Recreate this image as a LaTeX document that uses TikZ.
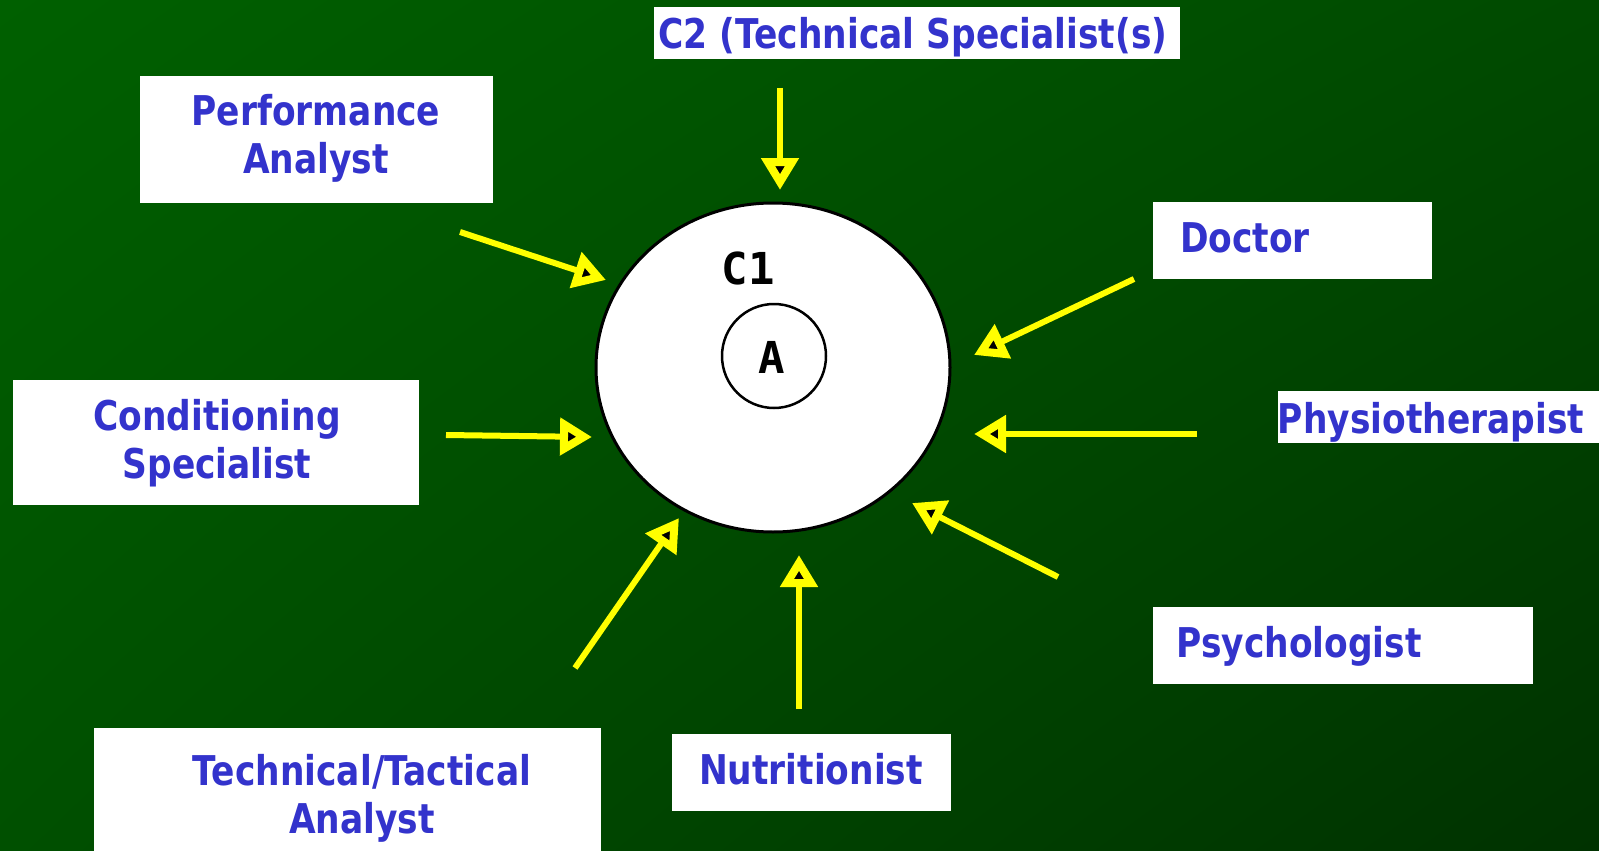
\documentclass[tikz,border=0pt]{standalone}
\usepackage{fontspec}
\setmainfont{DejaVu Sans}[FakeStretch=0.84]
\newfontfamily\monofam{DejaVu Sans Mono}
\usetikzlibrary{arrows.meta,shapes.geometric,shadings}
\definecolor{lbl}{RGB}{51,51,204}
\definecolor{bgUL}{RGB}{0,96,0}
\definecolor{bgUR}{RGB}{0,74,0}
\definecolor{bgLL}{RGB}{0,80,0}
\definecolor{bgLR}{RGB}{0,50,0}
\definecolor{feedyellow}{RGB}{255,255,0}
\begin{document}
\begin{tikzpicture}[x=1pt,y=-1pt,
  box/.style={fill=white, draw=none, inner sep=0pt, outer sep=0pt, anchor=north west},
  lab/.style={text=lbl, font=\bfseries\fontsize{41}{48}\selectfont, inner sep=0pt, anchor=base},
  mono/.style={text=black, font=\monofam\bfseries\fontsize{44}{50}\selectfont, inner sep=0pt, anchor=base},
  feed/.style={draw=feedyellow, line width=6pt, -{Triangle[length=32pt,width=36pt,line width=8pt,fill=black]}}]
% background
\shade[upper left=bgUL, upper right=bgUR, lower left=bgLL, lower right=bgLR] (0,0) rectangle (1599,851);
\useasboundingbox (0,0) rectangle (1599,851);

% boxes
\node[box, minimum width=526pt, minimum height=52pt] (c2box) at (654,7) {};
\node[box, minimum width=353pt, minimum height=127pt] (pabox) at (140,76) {};
\node[box, minimum width=279pt, minimum height=77pt] (docbox) at (1153,202) {};
\node[box, minimum width=321pt, minimum height=52pt] (phbox) at (1278,391) {};
\node[box, minimum width=380pt, minimum height=77pt] (psbox) at (1153,607) {};
\node[box, minimum width=279pt, minimum height=77pt] (nubox) at (672,734) {};
\node[box, minimum width=406pt, minimum height=125pt] (cobox) at (13,380) {};
\node[box, minimum width=507pt, minimum height=130pt] (tebox) at (94,728) {};

% labels
\node[lab] (c2t) at (913,49) {C2 (Technical Specialist(s)};
\node[lab] (pat1) at (316,125) {Performance};
\node[lab] (pat2) at (316,173) {Analyst};
\node[lab] (doct) at (1245,252) {Doctor};
\node[lab] (pht) at (1431,433) {Physiotherapist};
\node[lab] (pst) at (1299,657) {Psychologist};
\node[lab] (nut) at (811,784) {Nutritionist};
\node[lab] (cot1) at (217,430) {Conditioning};
\node[lab] (cot2) at (217,478) {Specialist};
\node[lab] (tet1) at (362,785) {Technical/Tactical};
\node[lab] (tet2) at (362,833) {Analyst};

% circles
\node[draw=black, line width=3pt, fill=white, ellipse, minimum width=354pt, minimum height=329pt, inner sep=0pt] (c1) at (773,367.5) {};
\node[draw=black, line width=2.5pt, fill=white, circle, minimum size=104pt, inner sep=0pt] (acirc) at (774,356) {};
\node[mono] (c1t) at (748,284) {C1};
\node[mono] (at) at (772,373) {A};

% connectors
\coordinate (c2s) at (780,88);   \coordinate (c2e) at (780,190);
\coordinate (pas) at (460,232);  \coordinate (pae) at (606,280);
\coordinate (docs) at (1134,279); \coordinate (doce) at (974,355);
\coordinate (phs) at (1197,434); \coordinate (phe) at (974,434);
\coordinate (pss) at (1058,577); \coordinate (pse) at (912,503);
\coordinate (nus) at (799,709);  \coordinate (nue) at (799,555);
\coordinate (tes) at (575,668);  \coordinate (tee) at (679,518);
\coordinate (cos) at (446,435);  \coordinate (coe) at (592,437);
\draw[feed] (c2s) -- (c2e);
\draw[feed] (pas) -- (pae);
\draw[feed] (docs) -- (doce);
\draw[feed] (phs) -- (phe);
\draw[feed] (pss) -- (pse);
\draw[feed] (nus) -- (nue);
\draw[feed] (tes) -- (tee);
\draw[feed] (cos) -- (coe);
\end{tikzpicture}
\end{document}
